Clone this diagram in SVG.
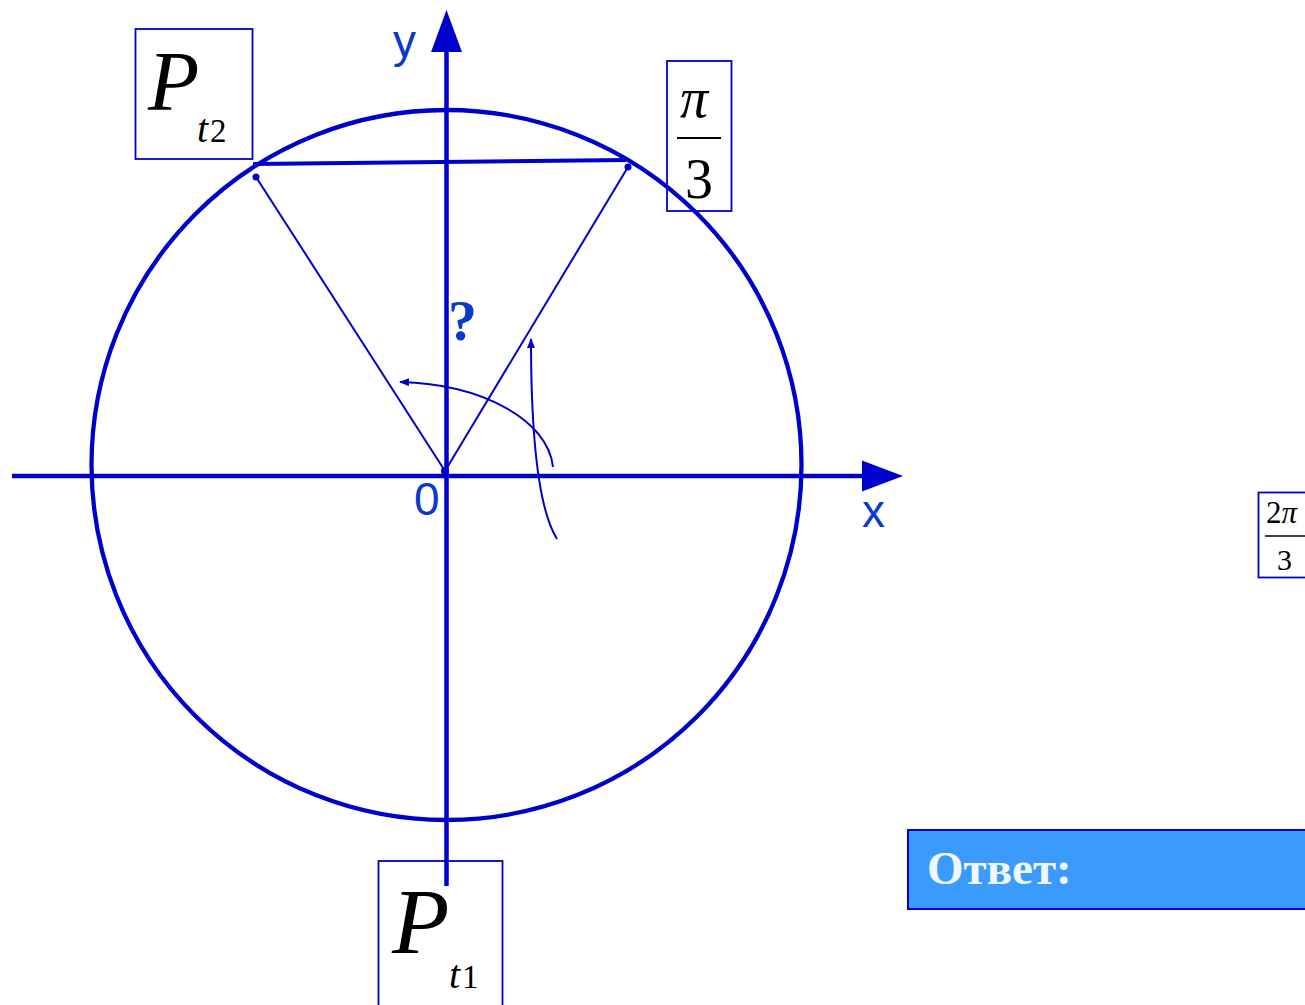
<svg xmlns="http://www.w3.org/2000/svg" width="1305" height="1005" viewBox="0 0 1305 1005">
<style>
.ax{stroke:#0000cc;stroke-width:4.5;fill:none}
.thin{stroke:#0000cc;stroke-width:2;fill:none}
.box{fill:none;stroke:#0000cc;stroke-width:1.8}
.lbl{font-family:"Liberation Sans",Arial,sans-serif;font-size:46px;fill:#0a3acc}
.math{font-family:"Liberation Serif","Times New Roman",serif;fill:#000}
.it{font-style:italic}
</style>
<defs>
<marker id="ah" viewBox="0 0 10 8" refX="9" refY="4" markerWidth="10" markerHeight="8" markerUnits="userSpaceOnUse" orient="auto">
<path d="M0,0 L10,4 L0,8 Z" fill="#0000cc"/>
</marker>
</defs>
<rect width="1305" height="1005" fill="#ffffff"/>

<g id="circle">
<circle cx="446.5" cy="465" r="355" fill="none" stroke="#0000cc" stroke-width="4.3"/>
</g>

<g id="axes">
<line class="ax" x1="12" y1="476" x2="866" y2="476"/>
<polygon points="862,460.5 903,476 862,491.5" fill="#0000cc"/>
<line class="ax" x1="446.5" y1="886" x2="446.5" y2="48"/>
<polygon points="431,52 446.5,10 462,52" fill="#0000cc"/>
<text class="lbl" x="393" y="57">y</text>
<text class="lbl" x="862" y="527">x</text>
<text class="lbl" x="414" y="515">0</text>
<text x="448" y="340" font-family="'Liberation Serif','Times New Roman',serif" font-weight="bold" font-size="58" fill="#0a3acc">?</text>
</g>

<g id="connectors">
<line x1="253" y1="164" x2="626" y2="160" stroke="#0000cc" stroke-width="4"/>
<line class="thin" x1="445" y1="471" x2="256" y2="177"/>
<line class="thin" x1="445" y1="471" x2="628" y2="167"/>
<circle cx="256" cy="177" r="3.5" fill="#0000cc"/>
<circle cx="628" cy="167" r="3.5" fill="#0000cc"/>
<circle cx="445" cy="471" r="4" fill="#0000cc"/>
<path class="thin" d="M553,467 C548,420 482,384 400,382" marker-end="url(#ah)"/>
<path class="thin" d="M557,539 C540,512 531,450 531,339" marker-end="url(#ah)"/>
</g>

<g id="p-t2-box">
<rect class="box" x="135.5" y="29" width="117" height="130"/>
<text class="math it" x="148" y="110" font-size="84">P</text>
<text class="math it" x="197" y="142" font-size="40">t</text>
<text class="math" x="210" y="142" font-size="33">2</text>
</g>

<g id="p-t1-box">
<rect class="box" x="378.5" y="861" width="124" height="160"/>
<text class="math it" x="392" y="953" font-size="94">P</text>
<text class="math it" x="449" y="988" font-size="40">t</text>
<text class="math" x="462" y="988" font-size="33">1</text>
</g>

<g id="pi-3-box">
<rect class="box" x="667" y="61" width="64.5" height="150"/>
<text class="math it" x="680" y="117" font-size="56">π</text>
<line x1="677" y1="138" x2="721" y2="138" stroke="#000" stroke-width="2"/>
<text class="math" x="685" y="198" font-size="56">3</text>
</g>

<g id="two-pi-3-box">
<rect class="box" x="1258.5" y="492.5" width="60" height="85"/>
<text class="math" x="1266" y="523" font-size="31">2<tspan font-style="italic">π</tspan></text>
<line x1="1265" y1="536" x2="1310" y2="536" stroke="#000" stroke-width="1.5"/>
<text class="math" x="1277" y="570" font-size="30">3</text>
</g>

<g id="answer">
<rect x="908" y="830" width="410" height="79" fill="#3a9bfd" stroke="#0000cc" stroke-width="2"/>
<text x="927" y="884" font-family="'Liberation Serif','Times New Roman',serif" font-weight="bold" font-size="47" fill="#f0f8ff">Ответ:</text>
</g>
</svg>
